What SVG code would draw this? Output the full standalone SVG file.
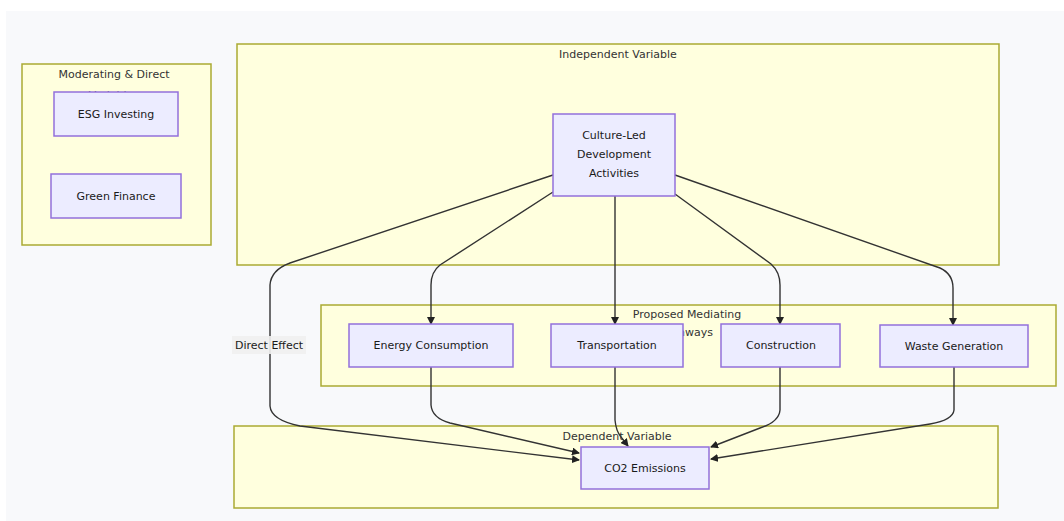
<svg xmlns="http://www.w3.org/2000/svg" width="1064" height="521" viewBox="0 0 1064 521">
<style>
.cl{fill:#ffffde;stroke:#aaaa33;stroke-width:1.5}
.nd{fill:#ececff;stroke:#9370db;stroke-width:1.5}
.t{font-family:"DejaVu Sans","Liberation Sans",sans-serif;font-size:11px;fill:#1a1a1a;text-anchor:middle;dominant-baseline:central}
.ct{font-family:"DejaVu Sans","Liberation Sans",sans-serif;font-size:11px;fill:#333;text-anchor:middle;dominant-baseline:central}
.e{fill:none;stroke:#333;stroke-width:1.4;marker-end:url(#ah)}
</style>
<defs>
<marker id="ah" markerWidth="8" markerHeight="8" refX="7" refY="4" orient="auto" markerUnits="userSpaceOnUse">
<path d="M0,0 L8,4 L0,8 z" fill="#222"/>
</marker>
</defs>
<rect x="0" y="0" width="1064" height="521" fill="#ffffff"/>
<rect x="6" y="11" width="1058" height="510" fill="#f8f9fb"/>

<g id="cluster-moderating">
<rect class="cl" x="22" y="64" width="189" height="181"/>
<text class="ct" x="114" y="74">Moderating &amp; Direct</text>
<text class="ct" x="114" y="95">Variables</text>
</g>
<g id="cluster-independent">
<rect class="cl" x="237" y="44" width="762" height="221"/>
<text class="ct" x="618" y="54">Independent Variable</text>
</g>
<g id="cluster-mediating">
<rect class="cl" x="321" y="305" width="735" height="81"/>
<text class="ct" x="687" y="314">Proposed Mediating</text>
<text class="ct" x="687" y="332">Pathways</text>
</g>
<g id="cluster-dependent">
<rect class="cl" x="234" y="426" width="764" height="82"/>
<text class="ct" x="617" y="436">Dependent Variable</text>
</g>

<g id="connectors">
<path class="e" d="M553,175 L290,263 Q271,270 270,285 L270,406 Q271,420 300,426 L579,460"/>
<path class="e" d="M553,192 L440,265 Q431,272 431,285 L431,324"/>
<path class="e" d="M615,196 L615,324"/>
<path class="e" d="M675,194 L771,264 Q780,272 780,285 L780,324"/>
<path class="e" d="M675,175 L940,268 Q953,274 953,288 L953,325"/>
<path class="e" d="M431,367 L431,405 Q432,418 450,423 L579,453"/>
<path class="e" d="M615,367 L615,420 Q616,431 621,437 L628,446"/>
<path class="e" d="M780,367 L780,410 Q779,422 760,428 L711,447"/>
<path class="e" d="M954,367 L954,410 Q953,420 930,424 L711,459"/>
<g id="label-direct">
<rect x="232" y="336" width="74" height="18" fill="#f0f0f0" opacity="0.9"/>
<text class="t" x="269" y="345">Direct Effect</text>
</g>
</g>

<g id="esg"><rect class="nd" x="54" y="92" width="124" height="44"/><text class="t" x="116" y="114">ESG Investing</text></g>
<g id="green"><rect class="nd" x="51" y="174" width="130" height="44"/><text class="t" x="116" y="196">Green Finance</text></g>
<g id="culture"><rect class="nd" x="553" y="114" width="122" height="82"/>
<text class="t" x="614" y="135">Culture-Led</text><text class="t" x="614" y="154">Development</text><text class="t" x="614" y="173">Activities</text></g>
<g id="energy"><rect class="nd" x="349" y="324" width="164" height="43"/><text class="t" x="431" y="345">Energy Consumption</text></g>
<g id="transport"><rect class="nd" x="551" y="324" width="132" height="43"/><text class="t" x="617" y="345">Transportation</text></g>
<g id="construction"><rect class="nd" x="721" y="324" width="119" height="43"/><text class="t" x="781" y="345">Construction</text></g>
<g id="waste"><rect class="nd" x="880" y="325" width="148" height="42"/><text class="t" x="954" y="346">Waste Generation</text></g>
<g id="co2"><rect class="nd" x="581" y="447" width="128" height="42"/><text class="t" x="645" y="468">CO2 Emissions</text></g>
</svg>
